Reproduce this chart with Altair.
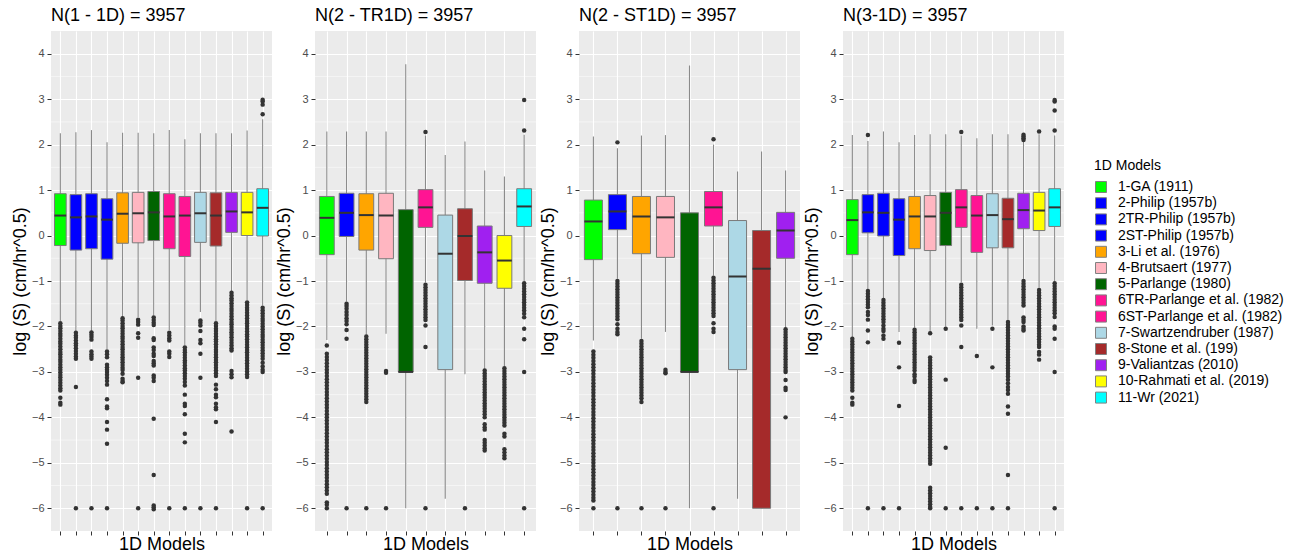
import altair as alt
import pandas as pd

MODELS = ["1-GA (1911)", "2-Philip (1957b)", "2TR-Philip (1957b)", "2ST-Philip (1957b)",
          "3-Li et al. (1976)", "4-Brutsaert (1977)", "5-Parlange (1980)",
          "6TR-Parlange et al. (1982)", "6ST-Parlange et al. (1982)", "7-Swartzendruber (1987)",
          "8-Stone et al. (199)", "9-Valiantzas (2010)", "10-Rahmati et al. (2019)", "11-Wr (2021)"]
COLORS = ["#00FF00", "#0000FF", "#0000FF", "#0000FF", "#FFA500", "#FFB6C1", "#006400",
          "#FF1493", "#FF1493", "#ADD8E6", "#A52A2A", "#A020F0", "#FFFF00", "#00FFFF"]

Y_TICKS = [-6, -5, -4, -3, -2, -1, 0, 1, 2, 3, 4]
Y_MINOR = [-5.5, -4.5, -3.5, -2.5, -1.5, -0.5, 0.5, 1.5, 2.5, 3.5]

TITLES = ["N(1 - 1D) = 3957", "N(2 - TR1D) = 3957", "N(2 - ST1D) = 3957", "N(3-1D) = 3957"]

# ---------------- Panel 1 ----------------
P1_IDX = [0, 1, 2, 3, 4, 5, 6, 7, 8, 9, 10, 11, 12, 13]
P1_Q1 = [-0.22, -0.32, -0.29, -0.52, -0.17, -0.16, -0.11, -0.29, -0.46, -0.15, -0.23, 0.07, 0.00, -0.01]
P1_MED = [0.44, 0.40, 0.42, 0.35, 0.48, 0.49, 0.51, 0.42, 0.44, 0.49, 0.44, 0.53, 0.51, 0.61]
P1_Q3 = [0.92, 0.90, 0.92, 0.81, 0.94, 0.95, 0.97, 0.92, 0.86, 0.95, 0.94, 0.95, 0.95, 1.03]
P1_LO = [-1.88, -2.10, -2.10, -2.50, -1.79, -1.79, -1.76, -2.08, -2.42, -1.68, -1.88, -1.22, -1.43, -1.54]
P1_HI = [2.25, 2.27, 2.32, 2.05, 2.26, 2.26, 2.25, 2.32, 2.12, 2.25, 2.25, 2.25, 2.31, 2.56]
P1_OUT = [
    [-1.93, -1.99, -2.04, -2.1, -2.16, -2.21, -2.27, -2.33, -2.38, -2.44, -2.5, -2.56, -2.61, -2.67, -2.73, -2.78, -2.84, -2.9, -2.95, -3.01, -3.07, -3.12, -3.18, -3.24, -3.3, -3.36, -3.41, -3.57, -3.68, -3.72],
    [-2.14, -2.2, -2.25, -2.31, -2.37, -2.42, -2.48, -2.54, -2.6, -2.66, -2.71, -3.33, -6.0],
    [-2.13, -2.18, -2.23, -2.29, -2.55, -2.61, -2.66, -2.71, -6.0],
    [-2.55, -2.61, -2.68, -2.84, -2.9, -2.95, -3.0, -3.06, -3.13, -3.2, -3.28, -3.6, -3.76, -3.8, -4.1, -4.27, -4.58, -6.0],
    [-1.82, -1.87, -1.93, -1.99, -2.04, -2.1, -2.16, -2.22, -2.27, -2.33, -2.39, -2.45, -2.5, -2.56, -2.62, -2.68, -2.73, -2.79, -2.85, -2.91, -2.96, -3.04, -3.15, -3.2, -3.23],
    [-1.85, -1.9, -1.96, -2.15, -2.25, -3.13, -6.0],
    [-1.8, -1.86, -1.92, -1.97, -2.26, -2.3, -2.46, -2.52, -2.6, -2.65, -2.76, -2.81, -2.86, -3.08, -3.13, -3.2, -4.03, -5.27, -5.94, -5.98, -6.02],
    [-2.14, -2.2, -2.26, -2.31, -2.55, -2.6, -2.67, -6.0],
    [-2.46, -2.52, -2.57, -2.63, -2.69, -2.75, -2.8, -2.86, -2.92, -2.97, -3.03, -3.09, -3.15, -3.22, -3.3, -3.5, -3.7, -3.75, -3.93, -4.36, -4.55, -6.0],
    [-1.87, -1.92, -1.98, -2.1, -2.3, -2.37, -2.6, -3.13, -6.0],
    [-1.93, -1.99, -2.05, -2.1, -2.16, -2.22, -2.28, -2.33, -2.39, -2.45, -2.51, -2.56, -2.62, -2.68, -2.74, -2.79, -2.85, -2.91, -2.97, -3.03, -3.09, -3.28, -3.38, -3.5, -3.56, -3.7, -3.78, -3.82, -4.1, -6.0],
    [-1.26, -1.32, -1.38, -1.43, -1.49, -1.55, -1.61, -1.66, -1.72, -1.78, -1.84, -1.9, -1.95, -2.01, -2.07, -2.13, -2.18, -2.24, -2.3, -2.36, -2.42, -2.48, -2.53, -2.98, -3.05, -3.12, -4.31],
    [-1.47, -1.53, -1.59, -1.64, -1.7, -1.76, -1.82, -1.88, -1.93, -1.99, -2.05, -2.11, -2.17, -2.22, -2.28, -2.34, -2.4, -2.46, -2.52, -2.57, -2.63, -2.69, -2.75, -2.81, -2.87, -2.93, -2.99, -3.05, -3.11, -6.0],
    [2.67, 2.88, 2.95, 2.99, -1.59, -1.65, -1.71, -1.77, -1.83, -1.88, -1.94, -2.0, -2.06, -2.12, -2.18, -2.23, -2.29, -2.35, -2.41, -2.47, -2.53, -2.59, -2.65, -2.71, -2.8, -2.88, -2.95, -3.0, -6.0],
]

# ---------------- Panel 2 ----------------
P2_IDX = [0, 2, 4, 5, 6, 7, 9, 10, 11, 12, 13]
P2_Q1 = [-0.42, -0.02, -0.32, -0.51, -3.00, 0.18, -2.95, -0.99, -1.05, -1.16, 0.20]
P2_MED = [0.39, 0.50, 0.45, 0.44, -3.00, 0.62, -0.40, -0.01, -0.37, -0.55, 0.64]
P2_Q3 = [0.86, 0.93, 0.92, 0.93, 0.57, 1.01, 0.45, 0.59, 0.21, 0.00, 1.03]
P2_LO = [-2.30, -1.45, -2.18, -2.16, -6.00, -1.03, -5.79, -3.05, -2.93, -2.88, -1.00]
P2_HI = [2.29, 2.29, 2.29, 2.29, 3.77, 2.20, 1.77, 2.07, 1.43, 1.30, 2.22]
P2_OUT = [
    [-2.42, -2.6, -2.67, -2.74, -2.81, -2.88, -2.95, -3.02, -3.09, -3.16, -3.23, -3.3, -3.37, -3.44, -3.51, -3.58, -3.65, -3.72, -3.79, -3.86, -3.93, -4.0, -4.07, -4.14, -4.21, -4.28, -4.35, -4.42, -4.49, -4.56, -4.63, -4.7, -4.77, -4.84, -4.91, -4.98, -5.05, -5.12, -5.19, -5.26, -5.33, -5.4, -5.47, -5.54, -5.61, -5.68, -5.87, -5.92, -6.0],
    [-1.5, -1.55, -1.61, -1.68, -1.75, -1.82, -1.88, -1.95, -2.08, -2.27, -6.0],
    [-2.22, -2.28, -2.34, -2.4, -2.46, -2.52, -2.58, -2.64, -2.7, -2.76, -2.82, -2.88, -2.94, -3.0, -3.06, -3.12, -3.18, -3.24, -3.3, -3.36, -3.42, -3.48, -3.54, -3.6, -3.66, -6.0],
    [-2.98, -3.02, -6.0],
    [],
    [2.28, -1.08, -1.14, -1.2, -1.26, -1.32, -1.38, -1.44, -1.5, -1.56, -1.62, -1.68, -1.74, -1.8, -1.86, -1.98, -2.45, -6.0],
    [],
    [-6.0],
    [-2.97, -3.03, -3.09, -3.15, -3.21, -3.27, -3.33, -3.39, -3.45, -3.51, -3.57, -3.63, -3.69, -3.75, -3.81, -3.87, -3.93, -4.0, -4.15, -4.22, -4.27, -4.5, -4.56, -4.62, -4.68, -4.73],
    [-2.92, -2.98, -3.04, -3.1, -3.16, -3.22, -3.28, -3.34, -3.4, -3.46, -3.52, -3.58, -3.64, -3.7, -3.76, -3.82, -3.88, -3.94, -4.0, -4.06, -4.12, -4.18, -4.36, -4.42, -4.7, -4.77, -4.84, -4.9],
    [2.31, 2.98, -1.05, -1.11, -1.17, -1.23, -1.29, -1.35, -1.41, -1.47, -1.53, -1.59, -1.65, -1.72, -1.8, -2.05, -2.28, -3.0, -6.0],
]

# ---------------- Panel 3 ----------------
P3_IDX = [0, 3, 4, 5, 6, 8, 9, 10, 11]
P3_Q1 = [-0.53, 0.13, -0.40, -0.48, -3.00, 0.21, -2.95, -6.00, -0.50]
P3_MED = [0.31, 0.53, 0.42, 0.40, -3.00, 0.62, -0.90, -0.73, 0.11]
P3_Q3 = [0.78, 0.90, 0.86, 0.86, 0.50, 0.97, 0.33, 0.11, 0.51]
P3_LO = [-2.31, -0.95, -2.27, -2.12, -6.00, -0.88, -5.79, -6.00, -2.02]
P3_HI = [2.18, 1.92, 2.20, 2.21, 3.74, 2.00, 1.41, 1.85, 1.43]
P3_OUT = [
    [-2.55, -2.62, -2.69, -2.76, -2.83, -2.9, -2.97, -3.04, -3.11, -3.18, -3.25, -3.32, -3.39, -3.46, -3.53, -3.6, -3.67, -3.74, -3.81, -3.88, -3.95, -4.02, -4.09, -4.16, -4.23, -4.3, -4.37, -4.44, -4.51, -4.58, -4.65, -4.72, -4.79, -4.86, -4.93, -5.0, -5.07, -5.14, -5.21, -5.28, -5.35, -5.42, -5.49, -5.56, -5.63, -5.7, -5.77, -5.83, -6.0],
    [2.05, -1.0, -1.06, -1.12, -1.18, -1.24, -1.3, -1.36, -1.42, -1.48, -1.54, -1.6, -1.66, -1.72, -1.78, -1.84, -1.95, -2.05, -2.12, -2.17, -6.0],
    [-2.32, -2.38, -2.44, -2.5, -2.56, -2.62, -2.68, -2.74, -2.8, -2.86, -2.92, -2.98, -3.04, -3.1, -3.16, -3.22, -3.28, -3.34, -3.4, -3.46, -3.52, -3.58, -3.66, -6.0],
    [-2.95, -3.0, -3.03, -6.0],
    [],
    [2.12, -0.93, -0.99, -1.05, -1.11, -1.17, -1.23, -1.29, -1.35, -1.41, -1.47, -1.53, -1.59, -1.65, -1.71, -1.77, -1.93, -2.05, -2.12, -6.0],
    [],
    [],
    [-2.06, -2.12, -2.18, -2.24, -2.3, -2.36, -2.42, -2.48, -2.54, -2.6, -2.66, -2.72, -2.78, -2.84, -2.9, -2.96, -3.0, -3.18, -3.35, -3.4, -4.0],
]

# ---------------- Panel 4 ----------------
P4_IDX = [0, 1, 2, 3, 4, 5, 6, 7, 8, 9, 10, 11, 12, 13]
P4_Q1 = [-0.42, 0.06, -0.01, -0.44, -0.29, -0.33, -0.22, 0.18, -0.37, -0.27, -0.27, 0.15, 0.11, 0.20]
P4_MED = [0.34, 0.51, 0.50, 0.35, 0.42, 0.42, 0.50, 0.62, 0.44, 0.45, 0.36, 0.56, 0.55, 0.62]
P4_Q3 = [0.79, 0.90, 0.93, 0.81, 0.86, 0.88, 0.95, 1.01, 0.88, 0.92, 0.82, 0.93, 0.95, 1.03]
P4_LO = [-2.23, -1.18, -1.38, -2.12, -2.03, -2.12, -2.00, -1.03, -2.05, -1.98, -1.85, -0.95, -1.15, -1.00]
P4_HI = [2.21, 2.08, 2.29, 2.05, 2.21, 2.23, 2.23, 2.20, 2.14, 2.23, 2.23, 2.06, 2.23, 2.20]
P4_OUT = [
    [-2.27, -2.33, -2.39, -2.45, -2.51, -2.57, -2.63, -2.69, -2.75, -2.81, -2.87, -2.93, -2.99, -3.05, -3.11, -3.17, -3.23, -3.29, -3.35, -3.41, -3.57, -3.68, -3.72],
    [2.21, -1.22, -1.28, -1.34, -1.4, -1.46, -1.52, -1.58, -1.68, -1.75, -1.85, -2.09, -2.35, -6.0],
    [-1.42, -1.48, -1.54, -1.6, -1.66, -1.72, -1.78, -1.84, -1.9, -1.98, -2.05, -2.1, -2.2, -2.27, -6.0],
    [-2.36, -2.9, -3.75, -6.0],
    [-2.07, -2.13, -2.19, -2.25, -2.31, -2.37, -2.43, -2.49, -2.55, -2.61, -2.67, -2.73, -2.79, -2.85, -2.91, -2.97, -3.05, -3.1, -3.18, -3.22],
    [-2.15, -2.68, -2.74, -2.8, -2.86, -2.92, -2.98, -3.04, -3.1, -3.16, -3.22, -3.28, -3.34, -3.4, -3.46, -3.52, -3.58, -3.64, -3.7, -3.76, -3.82, -3.88, -3.94, -4.0, -4.06, -4.12, -4.18, -4.24, -4.3, -4.36, -4.42, -4.48, -4.54, -4.6, -4.66, -4.72, -4.78, -4.84, -4.9, -4.96, -5.02, -5.55, -5.61, -5.67, -5.73, -5.79, -5.85, -5.91, -5.97, -6.0],
    [-2.05, -3.17, -4.67, -6.0],
    [2.28, -1.08, -1.14, -1.2, -1.26, -1.32, -1.38, -1.44, -1.5, -1.56, -1.62, -1.68, -1.74, -1.8, -1.86, -1.98, -2.45, -6.0],
    [-2.65, -6.0],
    [-2.05, -2.9, -6.0],
    [-1.9, -1.96, -2.02, -2.08, -2.14, -2.2, -2.26, -2.32, -2.38, -2.44, -2.5, -2.56, -2.62, -2.68, -2.74, -2.8, -2.86, -2.92, -2.98, -3.04, -3.1, -3.17, -3.25, -3.33, -3.4, -3.48, -3.76, -3.92, -5.27, -6.0],
    [2.1, 2.14, 2.18, 2.22, -1.0, -1.06, -1.12, -1.18, -1.24, -1.3, -1.36, -1.42, -1.48, -1.54, -1.8, -1.85, -1.9, -2.0, -2.05, -2.09],
    [2.29, -1.2, -1.26, -1.32, -1.38, -1.44, -1.5, -1.56, -1.62, -1.68, -1.74, -1.8, -1.86, -1.92, -1.98, -2.04, -2.1, -2.16, -2.22, -2.28, -2.34, -2.4, -2.45, -2.56, -2.62, -2.73],
    [2.31, 2.75, 2.95, 2.98, -1.05, -1.11, -1.17, -1.23, -1.29, -1.35, -1.41, -1.47, -1.53, -1.59, -1.65, -1.71, -1.79, -2.0, -2.05, -2.27, -3.0, -6.0],
]

W, H = 221, 500
FONT = "Liberation Sans"
YTITLE = "log (S) (cm/hr^0.5)"


def panel(title, idx, q1, med, q3, lo, hi, outs, legend):
    names = [MODELS[i] for i in idx]
    stats = pd.DataFrame({"model": names, "q1": q1, "med": med, "q3": q3, "lo": lo, "hi": hi})
    rows = [(names[k], v) for k, vals in enumerate(outs) for v in vals]
    out_df = pd.DataFrame(rows, columns=["model", "value"])
    minor_df = pd.DataFrame({"m": Y_MINOR})
    n = len(names)
    step = W / (n - 1 + 1.2)
    bw = 0.75 * step

    xaxis = alt.Axis(title="1D Models", labels=False, ticks=True, tickSize=4, tickColor="#333333",
                     domain=False, grid=True, gridColor="white", gridWidth=1.1,
                     titleFontSize=18, titleFontWeight="normal", titleColor="black",
                     titleFont=FONT, titlePadding=0)
    yaxis = alt.Axis(title=YTITLE, values=Y_TICKS, tickSize=4, tickColor="#333333", domain=False,
                     grid=True, gridColor="white", gridWidth=1.1, labelFontSize=11,
                     labelColor="#4D4D4D", labelFont=FONT, labelPadding=3,
                     titleFontSize=18, titleFontWeight="normal", titleColor="black",
                     titleFont=FONT, titlePadding=2)
    xs = alt.Scale(type="point", domain=names, padding=0.6)
    ys = alt.Scale(domain=[-6.5, 4.5], nice=False, zero=False)

    def X():
        return alt.X("model:N", scale=xs, axis=xaxis, sort=names)

    minor = alt.Chart(minor_df).mark_rule(color="white", strokeWidth=0.5).encode(
        y=alt.Y("m:Q", scale=ys, axis=yaxis))
    whisk = alt.Chart(stats).mark_rule(color="#8a8a8a", strokeWidth=1.1).encode(
        x=X(), y=alt.Y("lo:Q", scale=ys, axis=yaxis), y2="hi:Q")
    box = alt.Chart(stats).mark_bar(size=bw, stroke="#7a7a7a", strokeWidth=1).encode(
        x=X(), y=alt.Y("q1:Q", scale=ys, axis=yaxis), y2="q3:Q",
        fill=alt.Fill("model:N", scale=alt.Scale(domain=MODELS, range=COLORS), legend=legend))
    medl = alt.Chart(stats).mark_tick(size=bw, thickness=2, color="#333333", opacity=1).encode(
        x=X(), y=alt.Y("med:Q", scale=ys, axis=yaxis))
    pts = alt.Chart(out_df).mark_circle(size=20, color="#333333", opacity=1).encode(
        x=X(), y=alt.Y("value:Q", scale=ys, axis=yaxis))

    return alt.layer(minor, whisk, box, medl, pts).properties(
        width=W, height=H,
        view=alt.ViewBackground(fill="#EBEBEB", stroke="transparent", strokeWidth=0),
        title=alt.TitleParams(text=title, anchor="start", frame="group", fontSize=18,
                              fontWeight="normal", color="black", font=FONT, offset=6))


leg = alt.Legend(title="1D Models", orient="none", legendX=251, legendY=128,
                 symbolType="square", symbolSize=120, symbolStrokeColor="#808080",
                 symbolStrokeWidth=1, symbolOpacity=1, labelFontSize=14, titleFontSize=14,
                 titleFontWeight="normal", titleColor="black", labelColor="black",
                 labelFont=FONT, titleFont=FONT, rowPadding=0.2, labelLimit=300,
                 titlePadding=7, labelOffset=10)

p1 = panel(TITLES[0], P1_IDX, P1_Q1, P1_MED, P1_Q3, P1_LO, P1_HI, P1_OUT, None)
p2 = panel(TITLES[1], P2_IDX, P2_Q1, P2_MED, P2_Q3, P2_LO, P2_HI, P2_OUT, None)
p3 = panel(TITLES[2], P3_IDX, P3_Q1, P3_MED, P3_Q3, P3_LO, P3_HI, P3_OUT, None)
p4 = panel(TITLES[3], P4_IDX, P4_Q1, P4_MED, P4_Q3, P4_LO, P4_HI, P4_OUT, leg)

chart = alt.hconcat(p1, p2, p3, p4, spacing=2).resolve_scale(
    x="independent", fill="independent"
).properties(
    padding={"left": 11, "top": 7, "right": 0, "bottom": 0}, background="white"
).configure(font=FONT)

chart.save("out.html", embed_options={"renderer": "svg", "actions": False})
